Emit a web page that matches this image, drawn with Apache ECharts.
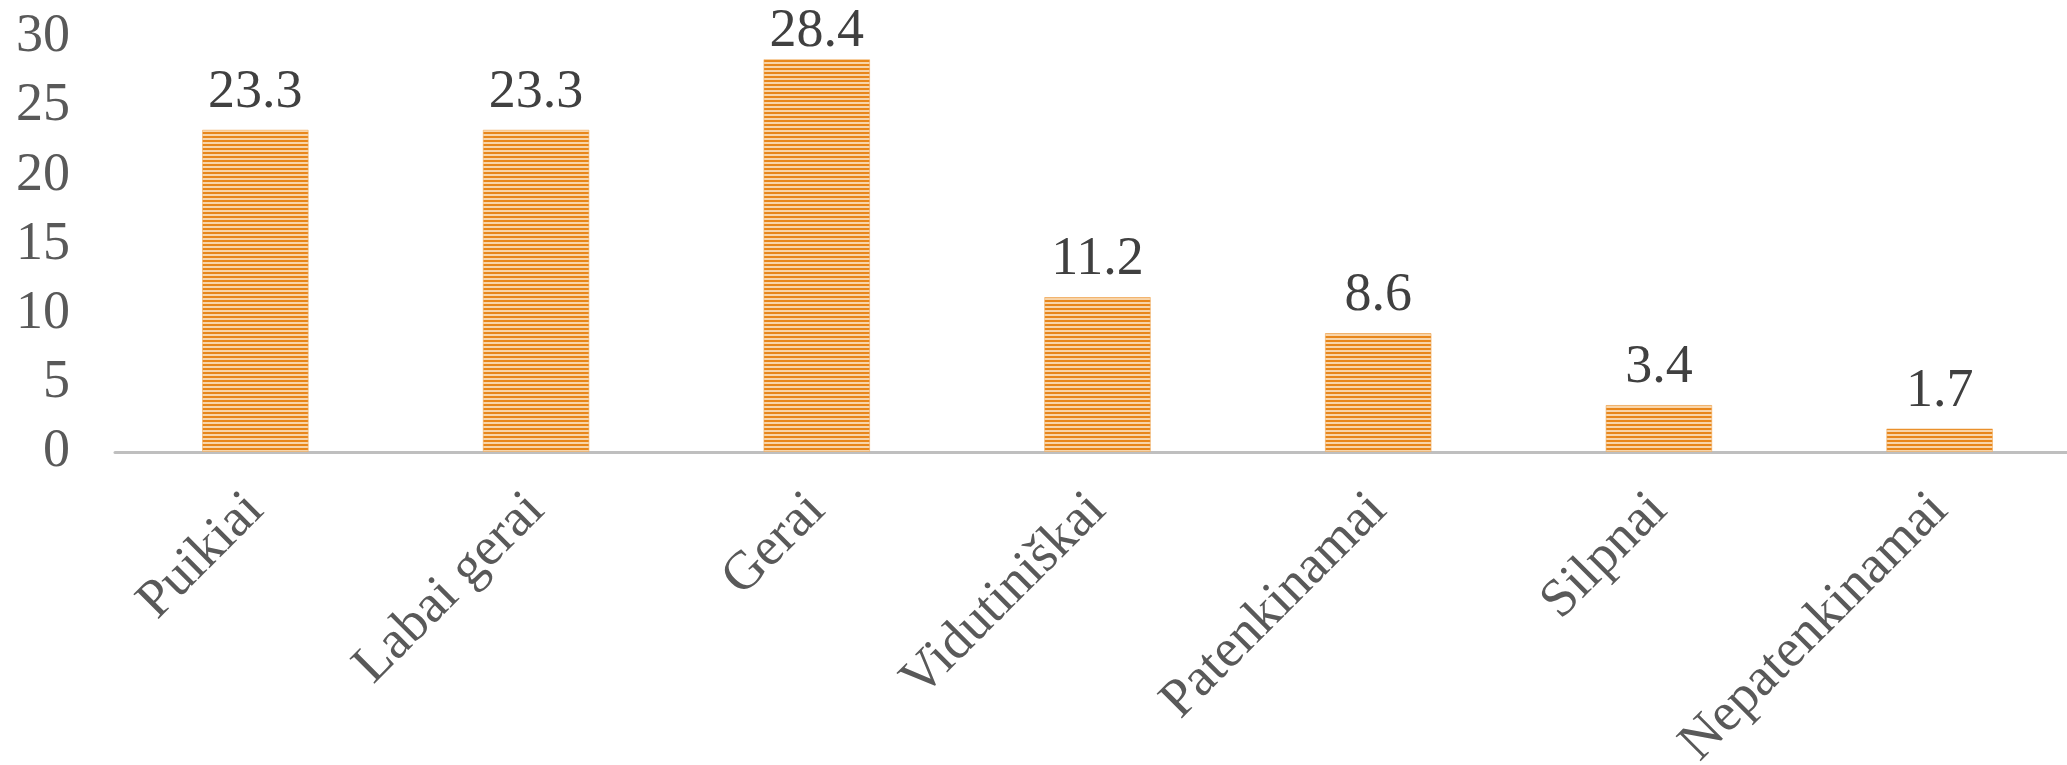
<!DOCTYPE html>
<html><head><meta charset="utf-8">
<script src="https://cdn.jsdelivr.net/npm/echarts@6/dist/echarts.min.js"></script>
<style>html,body{margin:0;padding:0;background:#fff}#c{width:2067px;height:765px}</style>
</head><body><div id="c"></div>
<script>
const categories = ['Puikiai','Labai gerai','Gerai','Vidutiniškai','Patenkinamai','Silpnai','Nepatenkinamai'];
const values = [23.3, 23.3, 28.4, 11.2, 8.6, 3.4, 1.7];
const yTicks = [0, 5, 10, 15, 20, 25, 30];

const pc = document.createElement('canvas');
pc.width = 4; pc.height = 4;
const g = pc.getContext('2d');
g.fillStyle = '#F8D5AA'; g.fillRect(0,0,4,4);
g.fillStyle = '#E8861A'; g.fillRect(0,0,4,2);

const maxV = Math.max(...values);
const barData = values.map(v => v === maxV ? {value:v, label:{distance:0}} : v);

const chart = echarts.init(document.getElementById('c'), null, {renderer:'canvas'});
const font = '"Liberation Serif", "Times New Roman", serif';
chart.setOption({
  animation:false,
  grid:{left:115, right:-13, top:37, bottom:313, containLabel:false, outerBoundsMode:'none'},
  xAxis:{type:'category', data:categories,
    axisLine:{lineStyle:{color:'#BFBFBF', width:3}},
    axisTick:{show:false},
    axisLabel:{rotate:45, margin:50, fontFamily:font, fontSize:54, color:'#595959', interval:0}
  },
  yAxis:{type:'value', min:yTicks[0], max:yTicks[yTicks.length-1], interval:5,
    axisLine:{show:false}, axisTick:{show:false}, splitLine:{show:false},
    axisLabel:{margin:45, fontFamily:font, fontSize:54, color:'#595959'}
  },
  series:[{type:'bar', data:barData, barWidth:'38%',
    itemStyle:{color:{image:pc, repeat:'repeat'}, borderColor:'rgba(240,170,90,0.6)', borderWidth:1},
    label:{show:true, position:'top', distance:10, fontFamily:font, fontSize:54, color:'#404040',
      formatter:p=>p.value.toFixed(1)}
  }]
});
</script></body></html>
